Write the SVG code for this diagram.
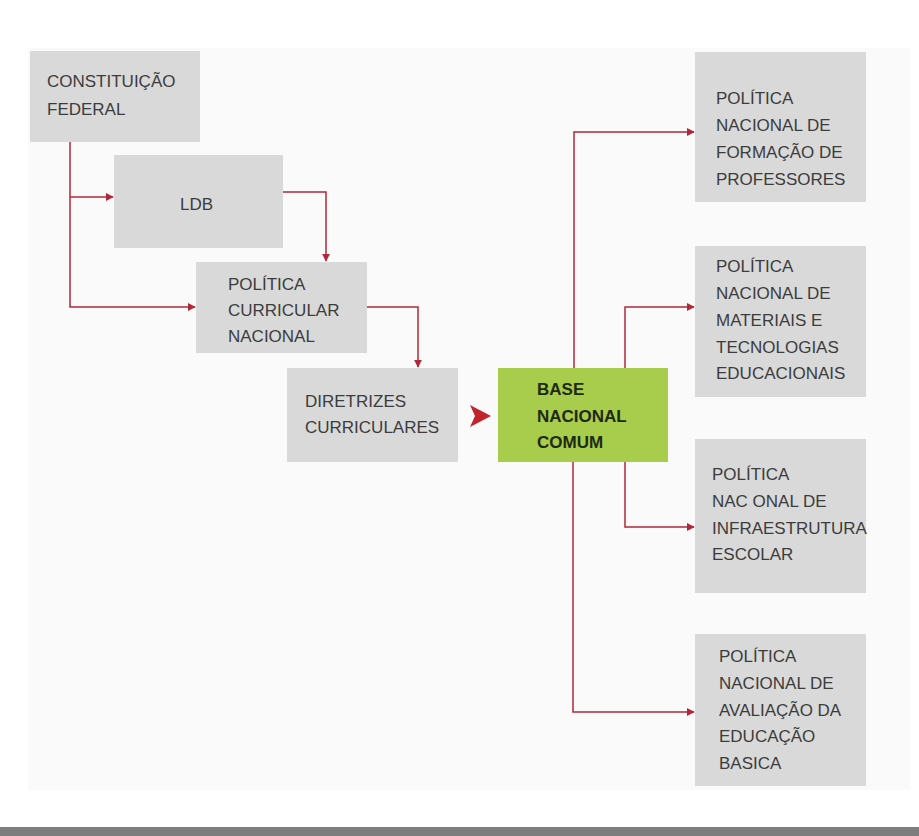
<svg xmlns="http://www.w3.org/2000/svg" width="919" height="836" viewBox="0 0 919 836">
<defs>
<marker id="ah" viewBox="0 0 10 10" refX="9" refY="5" markerWidth="8" markerHeight="8" markerUnits="userSpaceOnUse" orient="auto">
<path d="M0,0 L10,5 L0,10 z" fill="#b0283a"/>
</marker>
<style>
.box{fill:#d9d9d9}
.t{font-family:"Liberation Sans",Arial,sans-serif;font-size:17px;fill:#3c3c3c}
.b{font-family:"Liberation Sans",Arial,sans-serif;font-size:17px;font-weight:bold;fill:#1e2a10}
.c{fill:none;stroke:#b0283a;stroke-width:1.5}
</style>
</defs>
<rect width="919" height="836" fill="#ffffff"/>
<rect x="28" y="48" width="882" height="742" fill="#fafafa"/>
<rect x="0" y="827" width="919" height="9" fill="#7d7d7d"/>

<g id="constituicao"><rect class="box" x="30" y="51" width="170" height="91"/>
<text class="t" x="47" y="87">CONSTITUIÇÃO</text><text class="t" x="47" y="115">FEDERAL</text></g>
<g id="ldb"><rect class="box" x="114" y="155" width="169" height="93"/>
<text class="t" x="180" y="210">LDB</text></g>
<g id="politica-curricular"><rect class="box" x="196" y="262" width="171" height="91"/>
<text class="t" x="228" y="290">POLÍTICA</text><text class="t" x="228" y="316">CURRICULAR</text><text class="t" x="228" y="342">NACIONAL</text></g>
<g id="diretrizes"><rect class="box" x="287" y="368" width="171" height="94"/>
<text class="t" x="305" y="407">DIRETRIZES</text><text class="t" x="305" y="433">CURRICULARES</text></g>
<g id="base"><rect x="498" y="368" width="170" height="94" fill="#a8cc4c"/>
<text class="b" x="537" y="395">BASE</text><text class="b" x="537" y="422">NACIONAL</text><text class="b" x="537" y="448">COMUM</text></g>

<g id="formacao"><rect class="box" x="695" y="52" width="171" height="150"/>
<text class="t" x="716" y="104">POLÍTICA</text><text class="t" x="716" y="131">NACIONAL DE</text><text class="t" x="716" y="158">FORMAÇÃO DE</text><text class="t" x="716" y="185">PROFESSORES</text></g>
<g id="materiais"><rect class="box" x="695" y="246" width="171" height="151"/>
<text class="t" x="716" y="272">POLÍTICA</text><text class="t" x="716" y="299">NACIONAL DE</text><text class="t" x="716" y="326">MATERIAIS E</text><text class="t" x="716" y="353">TECNOLOGIAS</text><text class="t" x="716" y="379">EDUCACIONAIS</text></g>
<g id="infraestrutura"><rect class="box" x="695" y="439" width="171" height="154"/>
<text class="t" x="712" y="480">POLÍTICA</text><text class="t" x="712" y="507">NAC ONAL DE</text><text class="t" x="712" y="534">INFRAESTRUTURA</text><text class="t" x="712" y="560">ESCOLAR</text></g>
<g id="avaliacao"><rect class="box" x="695" y="634" width="171" height="152"/>
<text class="t" x="719" y="662">POLÍTICA</text><text class="t" x="719" y="689">NACIONAL DE</text><text class="t" x="719" y="716">AVALIAÇÃO DA</text><text class="t" x="719" y="742">EDUCAÇÃO</text><text class="t" x="719" y="769">BASICA</text></g>

<g id="connectors">
<path class="c" d="M70,142 V307 H195" marker-end="url(#ah)"/>
<path class="c" d="M70,197 H113" marker-end="url(#ah)"/>
<path class="c" d="M283,192 H326 V261" marker-end="url(#ah)"/>
<path class="c" d="M367,307 H418 V367" marker-end="url(#ah)"/>
<path d="M470,405 L491,416 L470,427 L475,416 z" fill="#c0242d"/>
<path class="c" d="M574,368 V132 H694" marker-end="url(#ah)"/>
<path class="c" d="M625,368 V307 H694" marker-end="url(#ah)"/>
<path class="c" d="M625,462 V527 H694" marker-end="url(#ah)"/>
<path class="c" d="M573,462 V712 H694" marker-end="url(#ah)"/>
</g>
</svg>
